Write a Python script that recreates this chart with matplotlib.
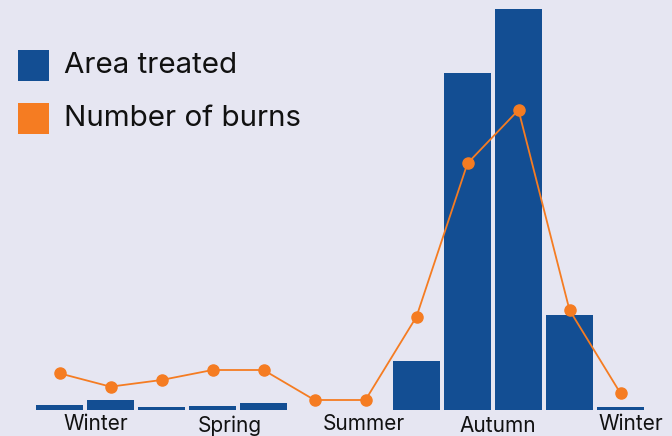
import matplotlib
matplotlib.use("Agg")
import matplotlib.pyplot as plt
from matplotlib.patches import Rectangle

months = ["Jul", "Aug", "Sep", "Oct", "Nov", "Dec", "Jan", "Feb", "Mar", "Apr", "May", "Jun"]
area_treated = [500, 1000, 300, 400, 700, 0, 0, 4900, 33700, 40100, 9500, 300]
number_of_burns = [11, 7, 9, 12, 12, 3, 3, 28, 74, 90, 30, 5]
season_labels = ["Winter", "Spring", "Summer", "Autumn", "Winter"]
season_pos = [0.71, 3.33, 5.96, 8.59, 11.21]

BG = "#E6E6F2"
BLUE = "#134E93"
ORANGE = "#F57C22"
TXT = "#111111"
FONT = ["Inter", "DejaVu Sans"]

W, H = 672, 436
fig = plt.figure(figsize=(W / 100, H / 100), dpi=100, facecolor=BG)

def px_box(l, t, r, b):
    return [l / W, 1 - b / H, (r - l) / W, (b - t) / H]

ax = fig.add_axes(px_box(34, 0, 646, 410))
ax.set_facecolor(BG)
x = list(range(len(months)))
ax.bar(x, area_treated, width=0.92, color=BLUE, zorder=1)
ax.set_xlim(-0.5, 11.5)
ax.set_ylim(0, 41000)
ax.axis("off")

ax2 = ax.twinx()
ax2.plot(x, number_of_burns, color=ORANGE, lw=1.3, marker="o", ms=8, zorder=3)
ax2.set_ylim(0, 123)
ax2.axis("off")

# season labels
for i, (lab, pos) in enumerate(zip(season_labels, season_pos)):
    off = 19.5 if i % 2 == 0 else 21.5
    ax.text(pos, -off / 410, lab, transform=ax.get_xaxis_transform(),
            ha="center", va="baseline", fontsize=15, color=TXT, family=FONT)

# legend
leg_items = [("Area treated", BLUE, 50), ("Number of burns", ORANGE, 103)]
for lab, col, top in leg_items:
    fig.add_artist(Rectangle((18 / W, 1 - (top + 31) / H), 31 / W, 31 / H,
                             transform=fig.transFigure, color=col, lw=0))
    fig.text(64 / W, 1 - (top + 15.5) / H, lab, ha="left", va="center",
             fontsize=21.3, color=TXT, family=FONT)

fig.savefig("out.png", dpi=100, facecolor=BG)
